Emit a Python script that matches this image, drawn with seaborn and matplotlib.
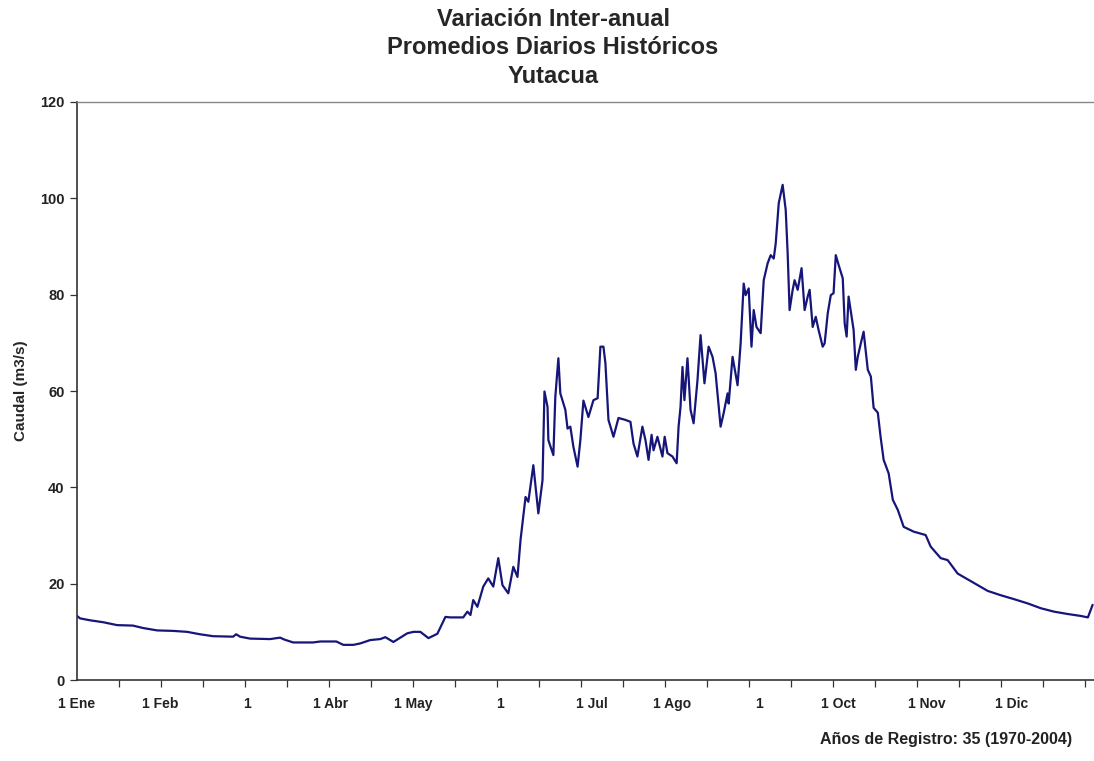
import matplotlib
matplotlib.use("Agg")
import matplotlib.pyplot as plt
import numpy as np
import pandas as pd
import seaborn as sns

# caudal promedio diario (m3/s): dia del año -> valor
dias = [
    0, 1.1, 4.7, 9.4, 14.4, 20.1, 23.7, 28.8, 34.5, 39.6, 44.2, 48.9, 56.1, 57.2,
    58.6, 62.2, 69.4, 73.0, 74.5, 77.7, 84.9, 87.4, 93.2, 95.7, 99.3, 101.8, 105.4,
    109.0, 110.8, 113.7, 118.7, 120.9, 123.4, 126.3, 129.5, 132.4, 134.2, 138.8,
    140.3, 141.4, 142.4, 143.9, 146.0, 147.8, 149.6, 151.4, 152.9, 155.0, 156.8,
    158.3, 159.4, 161.2, 162.2, 164.0, 165.8, 167.3, 168.0, 169.1, 169.4, 171.2,
    171.9, 173.0, 173.7, 175.5, 176.3, 177.3, 178.4, 179.9, 180.9, 182.0, 183.8,
    185.6, 187.1, 188.1, 189.2, 189.9, 191.0, 192.8, 194.6, 197.1, 198.9, 200.0,
    201.4, 203.2, 204.3, 205.4, 206.5, 207.2, 208.6, 210.4, 211.2, 212.2, 214.0,
    215.5, 216.2, 216.9, 217.6, 218.3, 219.4, 220.5, 221.6, 223.0, 224.1, 225.5,
    227.0, 228.4, 229.5, 231.3, 232.4, 233.8, 234.2, 235.6, 237.4, 238.5, 239.6,
    240.3, 241.4, 242.4, 243.2, 244.2, 245.7, 246.8, 248.2, 249.3, 250.4, 251.1,
    252.2, 253.6, 254.7, 255.4, 256.1, 257.2, 257.9, 259.0, 260.4, 261.5, 262.6,
    263.3, 264.4, 265.5, 266.5, 268.0, 268.7, 269.8, 270.9, 271.9, 272.7, 273.7,
    275.2, 275.9, 276.6, 277.3, 278.4, 279.1, 279.9, 280.6, 281.7, 282.7, 284.2,
    285.3, 286.3, 287.8, 288.8, 289.9, 291.7, 293.2, 295.0, 297.1, 300.7, 305.0,
    306.8, 310.4, 312.9, 316.5, 320.1, 323.7, 327.3, 332.0, 336.7, 341.7, 346.4,
    351.1, 356.1, 360.8, 363.3, 365.0,
]
caudal = [
    13.3, 12.8, 12.4, 12.0, 11.4, 11.3, 10.8, 10.3, 10.2, 10.0, 9.5, 9.1, 9.0, 9.5,
    9.0, 8.6, 8.5, 8.8, 8.4, 7.8, 7.8, 8.0, 8.0, 7.3, 7.3, 7.6, 8.3,
    8.5, 8.9, 7.9, 9.7, 10.0, 10.0, 8.7, 9.6, 13.1, 13.0, 13.0,
    14.2, 13.5, 16.6, 15.2, 19.4, 21.1, 19.4, 25.3, 19.7, 18.0, 23.5,
    21.4, 29.1, 38.0, 37.0, 44.6, 34.6, 41.5, 59.9, 56.7, 49.8, 46.7,
    58.8, 66.8, 59.5, 56.1, 52.2, 52.6, 48.4, 44.3, 49.8, 58.0, 54.6,
    58.1, 58.5, 69.2, 69.2, 65.8, 54.0, 50.5, 54.4, 54.0, 53.6, 49.1,
    46.4, 52.6, 49.8, 45.7, 50.9, 47.7, 50.5, 46.4, 50.5, 47.1, 46.4,
    45.0, 52.6, 56.7, 65.0, 58.1, 66.8, 56.1, 53.3, 62.3, 71.6, 61.6,
    69.2, 67.1, 63.7, 52.6, 55.4, 59.5, 57.4, 67.1, 61.2, 69.9, 82.3,
    79.9, 81.3, 69.2, 76.8, 73.3, 72.0, 83.0, 86.5, 88.2, 87.5, 90.6,
    99.0, 102.8, 97.6, 88.6, 76.8, 81.0, 83.0, 81.0, 85.5, 76.8, 79.6,
    81.0, 73.3, 75.4, 72.7, 69.2, 69.9, 76.1, 79.9, 80.3, 88.2, 86.2,
    83.4, 74.0, 71.3, 79.6, 75.4, 72.7, 64.4, 67.1, 69.9, 72.3, 64.4,
    63.0, 56.5, 55.5, 50.5, 45.7, 42.9, 37.4, 35.3, 31.8, 30.8, 30.1,
    27.7, 25.3, 24.9, 22.1, 20.9, 19.7, 18.5, 17.6, 16.8, 15.9, 14.9,
    14.2, 13.7, 13.3, 13.0, 15.6,
]

# etiquetas del eje x (posicion en dias, como aparecen en el grafico)
etiquetas_x = ["1 Ene", "1 Feb", "1", "1 Abr", "1 May", "1", "1 Jul",
               "1 Ago", "1", "1 Oct", "1 Nov", "1 Dic"]
pos_etiquetas = [0, 30, 61, 91, 121, 152, 185, 214, 245, 273.5, 305.5, 336]

df = pd.DataFrame({"dia": dias, "caudal": caudal})

sns.set_style("white")
plt.rcParams["font.family"] = ["Liberation Sans", "DejaVu Sans"]

fig = plt.figure(figsize=(10.94, 7.61), dpi=100)
ax = fig.add_axes([0.0704, 0.1064, 0.9296, 0.7596])

sns.lineplot(data=df, x="dia", y="caudal", color="#16167a", linewidth=1.6,
             ax=ax, estimator=None, sort=False)

ax.set_xlim(0, 365.5)
ax.set_ylim(0, 120)
ax.set_yticks(np.arange(0, 121, 20))
ax.set_yticklabels([str(v) for v in range(0, 121, 20)], fontsize=10.5,
                   fontweight="bold", color="#222222")
ax.set_xticks(pos_etiquetas)
ax.set_xticklabels(etiquetas_x, fontsize=10, fontweight="bold", color="#222222")
ax.set_xticks(np.arange(0, 366, 15.1), minor=True)
ax.tick_params(axis="x", which="major", length=0, pad=12)
ax.tick_params(axis="x", which="minor", length=5, width=0.9, color="#333333",
               direction="out", bottom=True)
ax.tick_params(axis="y", length=5, width=0.9, color="#333333", direction="out",
               left=True, pad=4)

ax.set_xlabel("")
ax.set_ylabel("Caudal (m3/s)", fontsize=11, fontweight="bold", labelpad=9)

for lado in ["left", "bottom"]:
    ax.spines[lado].set_color("#333333")
    ax.spines[lado].set_linewidth(1.2)
ax.spines["top"].set_color("#888888")
ax.spines["top"].set_linewidth(1.0)
ax.spines["right"].set_visible(False)

fig.text(0.5055, 0.99, "Variación Inter-anual\nPromedios Diarios Históricos\nYutacua",
         ha="center", va="top", fontsize=17, fontweight="bold", linespacing=1.32)
fig.text(0.98, 0.018, "Años de Registro: 35 (1970-2004)", ha="right", va="bottom",
         fontsize=11.5, fontweight="bold", color="#222222")

fig.savefig("out.png", dpi=100)
